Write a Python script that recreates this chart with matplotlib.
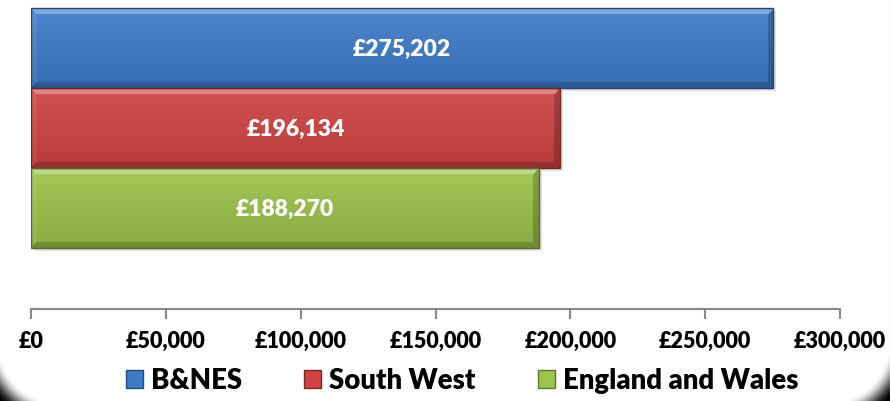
import numpy as np
import matplotlib.pyplot as plt
from matplotlib.colors import to_rgb
from matplotlib.patches import Rectangle, Patch

# data
areas = ['B&NES', 'South West', 'England and Wales']
values = [275202, 196134, 188270]
bar_colors = ['#3E7BC9', '#D04343', '#9CC34B']
xticks = [0, 50000, 100000, 150000, 200000, 250000, 300000]

plt.rcParams['font.family'] = ['Lato', 'DejaVu Sans']
plt.rcParams['font.weight'] = 'bold'

W, H = 890, 401
fig = plt.figure(figsize=(W / 100, H / 100), dpi=100)
fig.patch.set_facecolor('black')

# white card with soft rounded bottom corners on black
bg = fig.add_axes([0, 0, 1, 1], zorder=-5)
yy, xx = np.mgrid[0:H, 0:W] + 0.5
x0, x1, y0, y1, r = -10, 898, -200, 412, 70
dx = np.maximum.reduce([x0 + r - xx, np.zeros_like(xx), xx - (x1 - r)])
dy = np.maximum.reduce([y0 + r - yy, np.zeros_like(yy), yy - (y1 - r)])
d = np.hypot(dx, dy) - r
t = np.clip((d + 10) / 24, 0, 1)
shade = 1 - t * t * (3 - 2 * t)
bg.imshow(shade, cmap='gray', vmin=0, vmax=1, extent=(0, W, H, 0), aspect='auto')
bg.set_xlim(0, W)
bg.set_ylim(H, 0)
bg.axis('off')

# plot area
left_px, right_px, axis_px = 31, 840, 309
ax = fig.add_axes([left_px / W, (H - axis_px) / H, (right_px - left_px) / W, axis_px / H])
ax.patch.set_alpha(0)
xmax = 300000
bar_px = 80
px_per_x = (right_px - left_px) / xmax


def mix(c, other, a):
    return c * (1 - a) + np.asarray(other) * a


def bevel_image(color, wpx, hpx, b=6):
    base = np.array(to_rgb(color))
    yy, xx = np.mgrid[0:hpx, 0:wpx] + 0.5
    tt = yy / hpx
    img = np.empty((hpx, wpx, 3))
    body_light = mix(base, (1, 1, 1), 0.08)
    body_dark = mix(base, (0, 0, 0), 0.12)
    img[:] = body_light[None, None, :] * (1 - tt[..., None]) + body_dark[None, None, :] * tt[..., None]
    dtop, dbot, dleft, dright = yy, hpx - yy, xx, wpx - xx
    dmin = np.minimum.reduce([dtop, dbot, dleft, dright])
    top = (dtop == dmin) & (dmin < b)
    bot = (dbot == dmin) & (dmin < b) & ~top
    rgt = (dright == dmin) & (dmin < b) & ~top & ~bot
    lft = (dleft == dmin) & (dmin < b) & ~top & ~bot & ~rgt
    img[top] = mix(img[top], (1, 1, 1), 0.3)
    img[bot] = mix(img[bot], (0, 0, 0), 0.18)
    img[rgt] = mix(img[rgt], (0, 0, 0), 0.2)
    img[lft] = mix(img[lft], (1, 1, 1), 0.06)
    return img


for i, (v, c) in enumerate(zip(values, bar_colors)):
    wpx = int(round(v * px_per_x))
    # soft shadow
    ax.add_patch(Rectangle((3 / px_per_x, i - 0.5 + 3 / bar_px), v, 1, facecolor='black',
                           alpha=0.12, edgecolor='none', zorder=1))
    ax.imshow(bevel_image(c, wpx, bar_px), extent=(0, v, i + 0.5, i - 0.5),
              aspect='auto', origin='upper', zorder=2, interpolation='bilinear')
    ax.add_patch(Rectangle((0, i - 0.5), v, 1, facecolor='none',
                           edgecolor=mix(np.array(to_rgb(c)), (0, 0, 0), 0.45), lw=1, zorder=3))
    ax.text(v / 2, i + 0.02, '£{:,}'.format(v), color='white', ha='center', va='center',
            fontsize=16.5, fontweight='heavy', zorder=4)

ax.set_xlim(0, xmax)
ax.set_ylim(0.5 + 2 + (axis_px - 248) / bar_px, -0.5 - 8 / bar_px)
ax.set_xticks(xticks)
ax.set_xticklabels(['£{:,}'.format(x) for x in xticks], fontsize=15.5, fontweight='heavy')
ax.set_yticks([])
for s in ['top', 'left', 'right']:
    ax.spines[s].set_visible(False)
ax.spines['bottom'].set_color('#878787')
ax.spines['bottom'].set_linewidth(1.5)
ax.tick_params(axis='x', direction='out', length=7, width=1.5, color='#878787', pad=9)

handles = [Patch(facecolor=c, edgecolor=mix(np.array(to_rgb(c)), (0, 0, 0), 0.4)) for c in bar_colors]
fig.legend(handles, areas, loc='center', bbox_to_anchor=(462 / W, (H - 381) / H), ncol=3,
           frameon=False, handlelength=0.62, handleheight=0.62,
           handletextpad=0.3, columnspacing=2.25, prop={'weight': 'heavy', 'size': 19.8})

fig.savefig('out.png', dpi=100, facecolor=fig.get_facecolor())
